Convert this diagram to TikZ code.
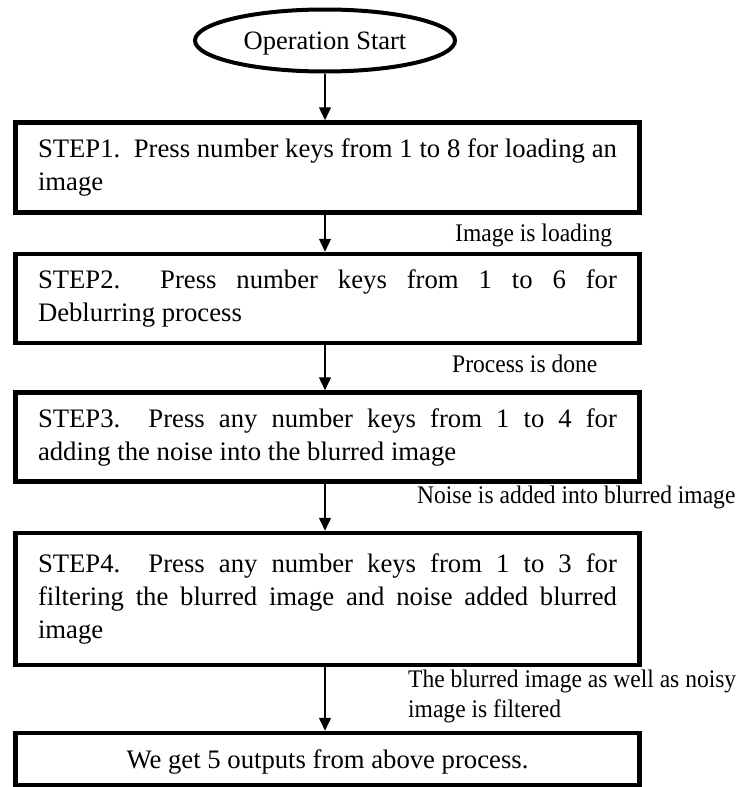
\documentclass[tikz,border=0pt]{standalone}
\usepackage{fontspec}
\setmainfont{Liberation Serif}
\newfontfamily\notefont[FakeStretch=0.93]{Liberation Serif}
\usetikzlibrary{shapes.geometric,arrows.meta}
\begin{document}
\begin{tikzpicture}[x=1pt,y=-1pt,
  stepbox/.style={draw, line width=4.5pt, rectangle, minimum width=624pt,
    inner sep=0pt, font=\fontsize{26.7}{33}\selectfont},
  startshape/.style={draw, ellipse, line width=4pt, minimum width=260pt,
    minimum height=62pt, inner sep=0pt, text depth=0pt,
    font=\fontsize{26.5}{32}\selectfont},
  flow/.style={line width=1.4pt, -{Triangle[width=12pt,length=13pt]}},
  note/.style={font=\notefont\fontsize{25.3}{30}\selectfont, inner sep=0pt, anchor=base west}]
\useasboundingbox (0,0) rectangle (742,787);

\node[startshape] (start) at (325,40.5) {Operation Start};

\node[stepbox, minimum height=90pt] (b1) at (327.5,167.5)
  {\parbox{579pt}{\makebox[579pt][s]{STEP1.\ \ Press number keys from 1 to 8 for loading an}\\image}};
\node[stepbox, minimum height=89pt] (b2) at (327.5,298.5)
  {\parbox{579pt}{\makebox[579pt][s]{STEP2.\ \ Press number keys from 1 to 6 for}\\Deblurring process}};
\node[stepbox, minimum height=89pt] (b3) at (327.5,437)
  {\parbox{579pt}{\makebox[579pt][s]{STEP3.\ \ Press any number keys from 1 to 4 for}\\adding the noise into the blurred image}};
\node[stepbox, minimum height=132pt] (b4) at (327.5,599)
  {\parbox{579pt}{\makebox[579pt][s]{STEP4.\ \ Press any number keys from 1 to 3 for}\\\makebox[579pt][s]{filtering the blurred image and noise added blurred}\\image}};
\node[stepbox, minimum height=52pt, text depth=0pt] (b5) at (327.5,759)
  {We get 5 outputs from above process.};

\draw[flow] (start.south) -- (start.south |- b1.north);
\draw[flow] (b1.south -| start.south) -- (start.south |- b2.north);
\draw[flow] (b2.south -| start.south) -- (start.south |- b3.north);
\draw[flow] (b3.south -| start.south) -- (start.south |- b4.north);
\draw[flow] (b4.south -| start.south) -- (start.south |- b5.north);

\node[note] (n1) at (455,241) {Image is loading};
\node[note] (n2) at (452,372) {Process is done};
\node[note] (n3) at (417,503) {Noise is added into blurred image};
\node[note] (n4) at (408,687) {\parbox[t]{340pt}{\raggedright The blurred image as well as noisy\\image is filtered}};
\end{tikzpicture}
\end{document}
